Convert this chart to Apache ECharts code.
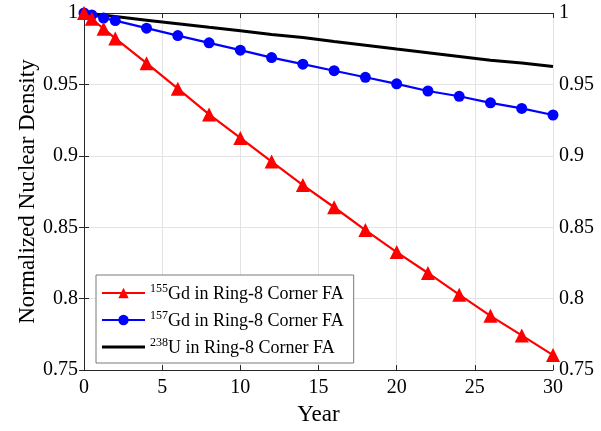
<!DOCTYPE html>
<html>
<head>
<meta charset="utf-8">
<script src="https://cdn.jsdelivr.net/npm/echarts@6/dist/echarts.min.js"></script>
<style>html,body{margin:0;padding:0;background:#fff;}#c{width:601px;height:431px;}</style>
</head>
<body>
<div id="c"></div>
<script>
const years = [0, 0.5, 1.25, 2, 4, 6, 8, 10, 12, 14, 16, 18, 20, 22, 24, 26, 28, 30];
const gd155 = [1.0, 0.996, 0.989, 0.9822, 0.9649, 0.947, 0.929, 0.9125, 0.896, 0.8795, 0.864, 0.848, 0.8326, 0.818, 0.8028, 0.788, 0.7743, 0.7605];
const gd157 = [1.0, 0.9986, 0.9965, 0.9947, 0.9894, 0.9842, 0.9791, 0.974, 0.9688, 0.9642, 0.9596, 0.955, 0.9504, 0.9454, 0.9417, 0.9371, 0.9332, 0.9286];
const u238 = [1.0, 0.9994, 0.9985, 0.9975, 0.995, 0.9925, 0.990, 0.9876, 0.985, 0.9828, 0.980, 0.9775, 0.9748, 0.9722, 0.9696, 0.967, 0.965, 0.9626];
const seriesNames = ['155Gd in Ring-8 Corner FA', '157Gd in Ring-8 Corner FA', '238U in Ring-8 Corner FA'];
const supers = ['155', '157', '238'];
const xTicks = [0, 5, 10, 15, 20, 25, 30];
const yTicks = [0.75, 0.8, 0.85, 0.9, 0.95, 1];

const FONT = '"Liberation Serif", "Times New Roman", serif';
const AX = '#262626';
const pairs = (ys) => years.map((x, i) => [x, ys[i]]);

const chart = echarts.init(document.getElementById('c'), null, {renderer: 'canvas'});
const baseY = {
  type: 'value', min: yTicks[0], max: yTicks[yTicks.length - 1], interval: 0.05,
  axisLine: {show: true, lineStyle: {color: AX, width: 1}},
  axisTick: {show: true, inside: true, length: 5, lineStyle: {color: AX}},
  axisLabel: {color: '#000', fontFamily: FONT, fontSize: 20, margin: 6}
};
const baseX = {
  type: 'value', min: xTicks[0], max: xTicks[xTicks.length - 1], interval: 5,
  axisLine: {show: true, onZero: false, lineStyle: {color: AX, width: 1}},
  axisTick: {show: true, inside: true, length: 5, lineStyle: {color: AX}},
  axisLabel: {color: '#000', fontFamily: FONT, fontSize: 20, margin: 8}
};
chart.setOption({
  animation: false,
  backgroundColor: '#fff',
  grid: {left: 84, right: 48, top: 13, bottom: 55, containLabel: false},
  xAxis: [
    Object.assign({}, baseX, {
      position: 'bottom', name: 'Year', nameLocation: 'middle', nameGap: 23,
      nameTextStyle: {color: '#000', fontFamily: FONT, fontSize: 23},
      splitLine: {show: true, lineStyle: {color: '#e3e3e3', width: 1}}
    }),
    Object.assign({}, baseX, {position: 'top', axisLabel: {show: false}, splitLine: {show: false}})
  ],
  yAxis: [
    Object.assign({}, baseY, {
      position: 'left', name: 'Normalized Nuclear Density', nameLocation: 'middle', nameGap: 45,
      nameMoveOverlap: false,
      nameTextStyle: {color: '#000', fontFamily: FONT, fontSize: 23},
      splitLine: {show: true, lineStyle: {color: '#e3e3e3', width: 1}}
    }),
    Object.assign({}, baseY, {position: 'right', splitLine: {show: false}})
  ],
  legend: {
    orient: 'vertical', left: 96, top: 275,
    padding: [8, 10, 6, 5], itemGap: 7, itemWidth: 43, itemHeight: 13,
    borderColor: '#7a7a7a', borderWidth: 1, backgroundColor: '#fff',
    data: [
      {name: seriesNames[0]},
      {name: seriesNames[1]},
      {name: seriesNames[2], icon: 'path://M0,0 L43,0 L43,3.2 L0,3.2 Z'}
    ],
    formatter: function (name) {
      const i = seriesNames.indexOf(name);
      return '{s|' + supers[i] + '}{n|' + name.slice(supers[i].length) + '}';
    },
    textStyle: {
      color: '#000', fontFamily: FONT, fontSize: 18,
      rich: {
        s: {fontFamily: FONT, fontSize: 12, color: '#000', verticalAlign: 'top', lineHeight: 20},
        n: {fontFamily: FONT, fontSize: 18, color: '#000', verticalAlign: 'bottom', lineHeight: 20}
      }
    }
  },
  series: [
    {name: seriesNames[0], type: 'line', data: pairs(gd155), clip: false,
     symbol: 'triangle', symbolSize: 14, color: '#ff0000',
     lineStyle: {color: '#ff0000', width: 2.2}, itemStyle: {color: '#ff0000'}, z: 4},
    {name: seriesNames[1], type: 'line', data: pairs(gd157), clip: false,
     symbol: 'circle', symbolSize: 11, color: '#0000ff',
     lineStyle: {color: '#0000ff', width: 2.2}, itemStyle: {color: '#0000ff'}, z: 3},
    {name: seriesNames[2], type: 'line', data: pairs(u238), clip: false,
     symbol: 'none', showSymbol: false, color: '#000000',
     lineStyle: {color: '#000000', width: 3}, z: 2}
  ]
});
</script>
</body>
</html>
